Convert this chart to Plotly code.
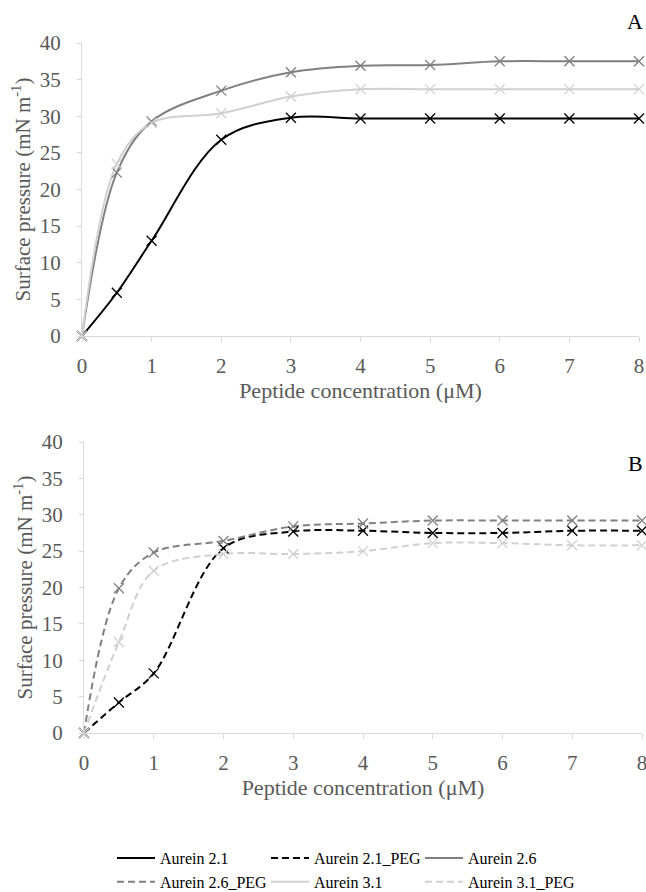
import plotly.graph_objects as go

conc = [0, 0.5, 1, 2, 3, 4, 5, 6, 7, 8]
x_ticks = [0, 1, 2, 3, 4, 5, 6, 7, 8]
y_ticks = [0, 5, 10, 15, 20, 25, 30, 35, 40]

# Panel A (free peptides)
aurein21 = [0, 5.9, 13.0, 26.8, 29.8, 29.7, 29.7, 29.7, 29.7, 29.7]
aurein26 = [0, 22.3, 29.3, 33.5, 36.0, 36.9, 37.0, 37.5, 37.5, 37.5]
aurein31 = [0, 23.5, 29.1, 30.4, 32.7, 33.7, 33.7, 33.7, 33.7, 33.7]

# Panel B (PEGylated)
aurein21_peg = [0, 4.2, 8.2, 25.4, 27.7, 27.8, 27.5, 27.5, 27.8, 27.8]
aurein26_peg = [0, 19.9, 24.8, 26.4, 28.4, 28.8, 29.2, 29.2, 29.2, 29.2]
aurein31_peg = [0, 12.5, 22.3, 24.6, 24.6, 25.0, 26.1, 26.1, 25.8, 25.8]

BLACK = "#000000"
DARK = "#808080"
LIGHT = "#d0d0d0"
DASH = "7px,4px"

series = [
    ("Aurein 2.1", aurein21, BLACK, "solid", 1),
    ("Aurein 2.1_PEG", aurein21_peg, BLACK, DASH, 2),
    ("Aurein 2.6", aurein26, DARK, "solid", 1),
    ("Aurein 2.6_PEG", aurein26_peg, DARK, DASH, 2),
    ("Aurein 3.1", aurein31, LIGHT, "solid", 1),
    ("Aurein 3.1_PEG", aurein31_peg, LIGHT, DASH, 2),
]

fig = go.Figure()
for name, vals, col, dash, panel in series:
    xa = "x" if panel == 1 else "x2"
    ya = "y" if panel == 1 else "y2"
    fig.add_trace(go.Scatter(
        x=conc, y=vals, mode="lines", name=name,
        line=dict(color=col, width=2, dash=dash, shape="spline", smoothing=1.0),
        xaxis=xa, yaxis=ya, cliponaxis=False,
    ))
for name, vals, col, dash, panel in series:
    xa = "x" if panel == 1 else "x2"
    ya = "y" if panel == 1 else "y2"
    fig.add_trace(go.Scatter(
        x=conc, y=vals, mode="markers", name=name, showlegend=False,
        marker=dict(symbol="x-thin", size=10, color=col, line=dict(color=col, width=1.3)),
        xaxis=xa, yaxis=ya, cliponaxis=False,
    ))

W, H = 646, 892
ML, MR = 82, 4
PW = W - ML - MR
FONT = "Liberation Serif"
TICKC = "#595959"
AXC = "#d9d9d9"

def px(v):
    return (v - ML) / PW

def py(v):
    return 1 - v / H

def xaxis(dom, anchor):
    return dict(domain=dom, anchor=anchor, range=[0, 8], tickmode="array", tickvals=x_ticks,
                showline=True, linecolor=AXC, linewidth=1.3, ticks="outside", ticklen=5,
                tickcolor=AXC, showgrid=False, zeroline=False, ticklabelstandoff=6,
                ticklabeloverflow="allow",
                tickfont=dict(family=FONT, size=21, color=TICKC),
                title=dict(text="Peptide concentration (μM)", font=dict(family=FONT, size=22, color=TICKC), standoff=3))

def yaxis(dom, anchor):
    return dict(domain=dom, anchor=anchor, range=[0, 40], tickmode="array", tickvals=y_ticks,
                showline=True, linecolor=AXC, linewidth=1.3, ticks="outside", ticklen=4, tickcolor=AXC,
                showgrid=False, zeroline=False, ticklabelstandoff=12,
                tickfont=dict(family=FONT, size=21, color=TICKC),
                title=dict(text="Surface pressure (mN m<sup>-1</sup>)", font=dict(family=FONT, size=21, color=TICKC), standoff=3))

fig.update_layout(
    width=W, height=H, paper_bgcolor="white", plot_bgcolor="white",
    margin=dict(l=ML, r=MR, t=0, b=0, autoexpand=False),
    xaxis=xaxis([px(82), px(639)], "y"),
    yaxis=yaxis([py(336), py(43)], "x"),
    xaxis2=xaxis([px(84), px(642)], "y2"),
    yaxis2=yaxis([py(733), py(442)], "x2"),
    font=dict(family=FONT),
    legend=dict(orientation="h", x=px(112), xanchor="left", y=py(841), yanchor="top",
                entrywidth=101, entrywidthmode="pixels", font=dict(family=FONT, size=16, color="#000000"),
                bgcolor="rgba(0,0,0,0)", itemwidth=38, traceorder="normal"),
    annotations=[
        dict(text="A", x=px(645), y=py(22), xref="paper", yref="paper", xanchor="right", yanchor="middle",
             showarrow=False, font=dict(family=FONT, size=22, color="#000000")),
        dict(text="B", x=px(645), y=py(463), xref="paper", yref="paper", xanchor="right", yanchor="middle",
             showarrow=False, font=dict(family=FONT, size=22, color="#000000")),
    ],
)

fig.write_html("out.html", config={"displayModeBar": False},
               post_script="document.body.style.margin='0px';document.body.style.overflow='hidden';")
